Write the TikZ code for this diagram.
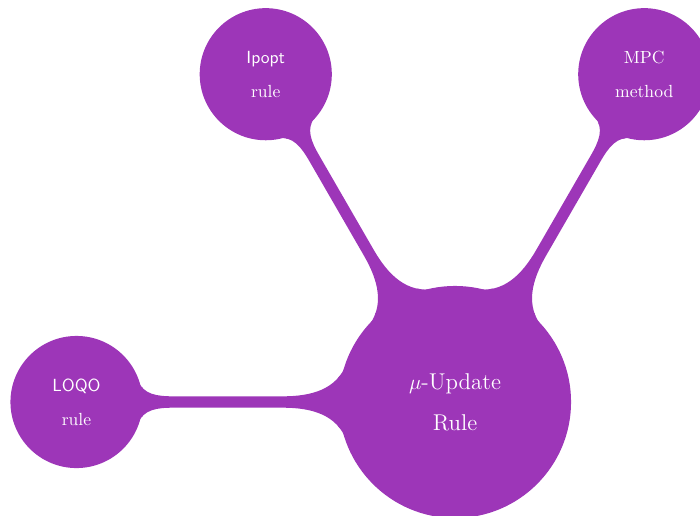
\documentclass[tikz,border=0pt]{standalone}
\usepackage{tikz}
\usetikzlibrary{mindmap}
\definecolor{updviolet}{RGB}{157,54,184}

\begin{document}
\begin{tikzpicture}[
    mindmap,
    concept color=updviolet,
    rootc/.style={concept,text=white,minimum size=4.6cm,text width=3.4cm,align=center,
      font=\fontsize{13}{23.2}\selectfont},
    leafc/.style={concept,text=white,minimum size=2.6cm,text width=2.2cm,align=center,
      font=\fontsize{10}{19.3}\selectfont},
    bar/.style={circle connection bar switch color=from (updviolet) to (updviolet)}
  ]
    \useasboundingbox (0,0) rectangle (14,-10.3);
    \node[rootc] (upd) at (9.1,-8.04) {$\mu$-Update\\Rule};
    \node[leafc] (loqo) at ([shift={(180:7.57)}]upd.center) {\textsf{LOQO}\\rule};
    \node[leafc] (ipopt) at ([shift={(120:7.57)}]upd.center) {\textsf{Ipopt}\\rule};
    \node[leafc] (mpc) at ([shift={(60:7.57)}]upd.center) {MPC\\method};
    \path (upd) to[bar] (loqo);
    \path (upd) to[bar] (ipopt);
    \path (upd) to[bar] (mpc);
  \end{tikzpicture}
\end{document}
